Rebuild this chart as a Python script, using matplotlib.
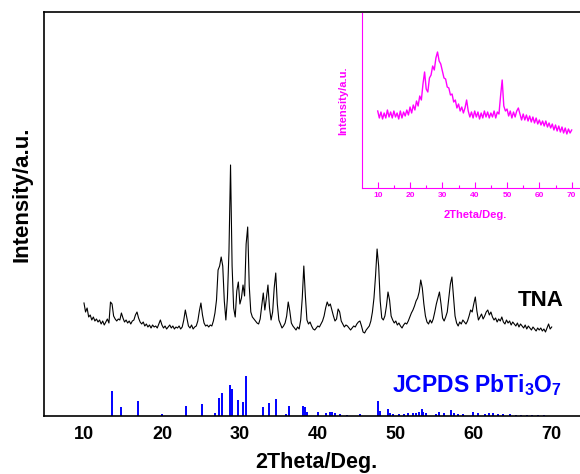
import numpy as np
import matplotlib
matplotlib.use("Agg")
import matplotlib.pyplot as plt
from matplotlib.ticker import MultipleLocator

plt.rcParams['font.family'] = ['Liberation Sans', 'DejaVu Sans']
plt.rcParams['font.weight'] = 'bold'
plt.rcParams['mathtext.fontset'] = 'custom'
plt.rcParams['mathtext.rm'] = 'Liberation Sans:bold'
plt.rcParams['mathtext.bf'] = 'Liberation Sans:bold'

# TNA scan: start 10 deg, step 0.2 deg
tna_start, tna_step = 10.0, 0.2
tna_counts = [
    113, 104, 108, 99, 101, 96, 99, 95, 97, 94,
    96, 92, 95, 91, 94, 97, 93, 114, 112, 100,
    97, 95, 97, 96, 103, 98, 94, 96, 93, 95,
    92, 95, 96, 101, 104, 98, 94, 92, 94, 90,
    92, 89, 91, 88, 91, 89, 90, 88, 92, 96,
    91, 88, 90, 87, 89, 91, 88, 90, 87, 89,
    88, 90, 87, 89, 96, 106, 98, 90, 88, 91,
    87, 89, 90, 95, 105, 113, 101, 93, 90, 91,
    89, 91, 90, 95, 103, 116, 146, 150, 159, 150,
    115, 96, 118, 165, 251, 150, 108, 99, 125, 134,
    112, 118, 131, 120, 172, 189, 130, 104, 99, 97,
    95, 93, 92, 97, 110, 123, 106, 118, 131, 108,
    96, 104, 128, 143, 112, 96, 92, 88, 90, 93,
    100, 114, 105, 93, 90, 88, 86, 89, 87, 96,
    118, 150, 120, 96, 92, 94, 90, 87, 86, 88,
    90, 89, 92, 95, 100, 108, 114, 110, 112, 106,
    100, 95, 97, 107, 104, 95, 92, 89, 91, 90,
    88, 86, 88, 90, 89, 92, 94, 95, 90, 84,
    83, 86, 88, 90, 95, 104, 118, 140, 167, 150,
    115, 98, 96, 100, 110, 124, 116, 100, 96, 93,
    95, 91, 93, 90, 88, 91, 93, 92, 95, 99,
    103, 106, 110, 115, 118, 124, 136, 128, 112, 100,
    94, 92, 96, 93, 97, 104, 112, 118, 124, 112,
    98, 95, 99, 104, 118, 132, 139, 120, 100, 93,
    90, 94, 92, 96, 94, 92, 95, 100, 106, 104,
    112, 119, 105, 96, 99, 102, 97, 100, 104, 106,
    101, 104, 99, 96, 98, 94, 97, 95, 99, 94,
    92, 96, 93, 95, 91, 94, 92, 90, 93, 89,
    92, 90, 88, 91, 87, 90, 88, 86, 89, 87,
    85, 88, 86, 88, 85, 87, 84, 88, 92, 87,
    89,
]

# reference pattern PbTi3O7
jcpds_2theta = [13.55, 14.8, 16.9, 19.97, 23.05, 25.1, 26.8, 27.36, 27.75, 28.73,
                28.95, 29.8, 30.36, 30.78, 32.9, 33.7, 34.6, 35.9, 36.26, 38.13,
                38.35, 38.57, 40.06, 41.1, 41.5, 41.8, 42.2, 42.9, 43.7, 45.4,
                47.7, 48.0, 49.04, 49.25, 49.6, 50.4, 51.0, 51.6, 52.2, 52.6,
                53.0, 53.3, 53.5, 53.9, 55.2, 55.6, 56.2, 57.1, 57.5, 58.0,
                58.6, 59.9, 60.5, 61.4, 61.9, 62.5, 63.1, 63.7, 64.6, 65.4,
                66.0, 66.8, 67.5, 68.3, 69.0]
jcpds_int = [25, 8.7, 15.3, 2, 10.3, 12, 3.3, 17.7, 23.3, 31,
             27, 16, 13.7, 40.3, 9.3, 13.3, 16.7, 1.7, 10.3, 10.3,
             9.3, 3.7, 4.3, 3, 4, 4, 3, 2, 1, 2,
             15.3, 5, 6.7, 3, 2, 2, 2, 3, 3, 3,
             4, 7, 4, 3, 2, 4, 3, 6, 3, 2,
             2, 4, 3, 2, 3, 3, 2, 2, 2, 1,
             1, 1, 1, 1, 1]

# inset scan: start 10 deg, step 0.5 deg
inset_start, inset_step = 10.0, 0.5
inset_counts = [
    77, 70, 76, 69, 75, 70, 78, 71, 76, 70,
    77, 71, 75, 69, 77, 70, 76, 72, 78, 73,
    81, 75, 83, 78, 87, 82, 92, 88, 104, 116,
    99, 96, 110, 113, 122, 118, 130, 136, 127, 124,
    117, 110, 109, 101, 100, 93, 94, 86, 88, 80,
    84, 77, 81, 75, 80, 88, 77, 71, 76, 70,
    77, 71, 76, 69, 75, 70, 77, 71, 76, 70,
    75, 71, 77, 70, 76, 74, 92, 108, 82, 77,
    79, 72, 77, 70, 76, 71, 77, 80, 74, 68,
    74, 68, 73, 67, 72, 66, 71, 65, 70, 64,
    68, 63, 67, 62, 67, 61, 65, 60, 64, 58,
    63, 57, 62, 56, 61, 55, 60, 54, 59, 55,
    58,
]

tna_2theta = tna_start + tna_step * np.arange(len(tna_counts))
inset_2theta = inset_start + inset_step * np.arange(len(inset_counts))

magenta = '#ff00ff'

fig = plt.figure(figsize=(5.8, 4.74), dpi=100)
ax = fig.add_axes([44/580, 58/474, 536/580, 404/474])

ax.plot(tna_2theta, tna_counts, color='black', lw=0.8)
ax.vlines(jcpds_2theta, 0, jcpds_int, color='#0000ff', lw=1.4)

ax.set_xlim(4.87, 73.63)
ax.set_ylim(0, 404)
ax.set_xticks([10, 20, 30, 40, 50, 60, 70])
ax.set_yticks([])
ax.tick_params(axis='x', length=0, labelsize=13, pad=7)
for s in ['left', 'bottom', 'top']:
    ax.spines[s].set_linewidth(1.2)
ax.spines['right'].set_visible(False)

ax.set_xlabel('2Theta/Deg.', fontsize=15.5, fontweight='bold')
ax.xaxis.set_label_coords(0.509, -0.09)
ax.set_ylabel('Intensity/a.u.', fontsize=16, fontweight='bold')
ax.yaxis.set_label_coords(-0.022, 0.55)

ax.text(68.6, 116, 'TNA', fontsize=16, fontweight='bold', ha='center', va='center')
ax.text(60.4, 24, r'JCPDS PbTi$_3$O$_7$', fontsize=16.5, fontweight='bold',
        color='#0000ff', ha='center', va='baseline')

# inset: amorphous precursor
axi = fig.add_axes([362/580, 286/474, 218/580, 175/474])
axi.patch.set_facecolor('none')
axi.plot(inset_2theta, inset_counts, color=magenta, lw=1.0)
axi.set_xlim(5.14, 72.57)
axi.set_ylim(0, 175)
axi.set_yticks([])
axi.xaxis.set_major_locator(MultipleLocator(10))
axi.xaxis.set_minor_locator(MultipleLocator(5))
axi.set_xticks([10, 20, 30, 40, 50, 60, 70])
axi.tick_params(axis='x', which='major', direction='in', length=4, width=0.8,
                color=magenta, labelcolor=magenta, labelsize=6, pad=3)
axi.tick_params(axis='x', which='minor', direction='in', length=2, width=0.8,
                color=magenta)
axi.spines['top'].set_visible(False)
axi.spines['right'].set_visible(False)
axi.spines['left'].set_color(magenta)
axi.spines['bottom'].set_color(magenta)
axi.set_xlabel('2Theta/Deg.', fontsize=8, fontweight='bold', color=magenta)
axi.xaxis.set_label_coords(0.518, -0.126)
axi.set_ylabel('Intensity/a.u.', fontsize=8, fontweight='bold', color=magenta)
axi.yaxis.set_label_coords(-0.064, 0.5)

fig.savefig('out.png', dpi=100)
